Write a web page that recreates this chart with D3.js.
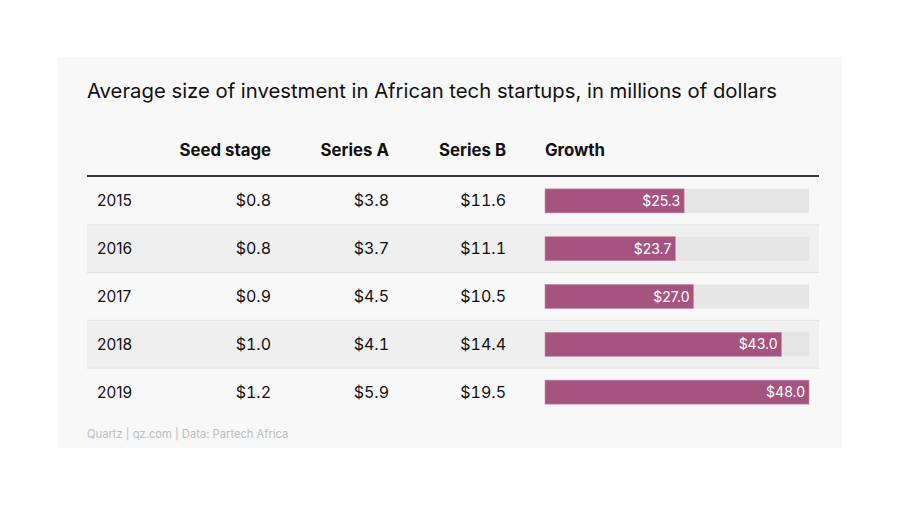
<!DOCTYPE html>
<html><head><meta charset="utf-8">
<script src="https://cdn.jsdelivr.net/npm/d3@7"></script>
<style>body{margin:0;background:#fff;font-family:Inter,"Noto Sans",sans-serif;}
.num{font-feature-settings:"tnum";font-variant-numeric:tabular-nums;}</style>
</head><body>
<svg id="c" width="900" height="506"></svg>
<script>
const years = ["2015","2016","2017","2018","2019"];
const seed = [0.8,0.8,0.9,1.0,1.2];
const seriesA = [3.8,3.7,4.5,4.1,5.9];
const seriesB = [11.6,11.1,10.5,14.4,19.5];
const growth = [25.3,23.7,27.0,43.0,48.0];
const headers = ["Seed stage","Series A","Series B","Growth"];

const svg = d3.select("#c");
svg.append("rect").attr("x",58).attr("y",57).attr("width",784).attr("height",391).attr("fill","#f8f8f8");
svg.append("text").attr("x",87).attr("y",98).attr("font-size",20.3).attr("fill","#111")
  .text("Average size of investment in African tech startups, in millions of dollars");

const y = d3.scaleBand().domain(years).range([177,416]).padding(0);
const x = d3.scaleLinear().domain([0,48]).range([545,809]);
const fmt = d3.format(".1f");

svg.selectAll(".row").data(years).join("rect")
  .attr("x",87).attr("width",732).attr("y",d=>y(d)).attr("height",y.bandwidth())
  .attr("fill",(d,i)=>i%2? "#efefef":"#f8f8f8");
svg.selectAll(".sep").data(years.slice(0,4)).join("line")
  .attr("x1",87).attr("x2",819).attr("y1",d=>y(d)+y.bandwidth()).attr("y2",d=>y(d)+y.bandwidth())
  .attr("stroke","#e2e2e2").attr("stroke-width",1);

const colX = [271,389,506,545];
headers.forEach((h,i)=>{
  svg.append("text").attr("x",colX[i]).attr("y",156).attr("font-size",16.8).attr("font-weight",700)
    .attr("fill","#111").attr("text-anchor",i<3?"end":"start").text(h);
});
svg.append("line").attr("x1",87).attr("x2",819).attr("y1",176).attr("y2",176).attr("stroke","#333").attr("stroke-width",2);

const cy = d=>y(d)+y.bandwidth()/2;
svg.selectAll(".yr").data(years).join("text").attr("x",97).attr("y",d=>cy(d)+5.5)
  .attr("font-size",15.5).attr("fill","#111").text(d=>d);
[seed,seriesA,seriesB].forEach((arr,j)=>{
  svg.selectAll(".c"+j).data(arr).join("text").attr("class","num").attr("x",colX[j]).attr("y",(d,i)=>cy(years[i])+5.5)
    .attr("font-size",16).attr("fill","#111").attr("text-anchor","end").text(d=>"$"+fmt(d));
});

svg.selectAll(".bg").data(years).join("rect").attr("x",x(0)).attr("width",x(48)-x(0))
  .attr("y",d=>cy(d)-12).attr("height",24).attr("fill","#e6e6e6");
svg.selectAll(".bar").data(growth).join("rect").attr("x",x(0)).attr("width",d=>x(d)-x(0))
  .attr("y",(d,i)=>cy(years[i])-12).attr("height",24).attr("fill","#a5547f")
  .attr("stroke","#c98aab").attr("stroke-width",0.6);
svg.selectAll(".bl").data(growth).join("text").attr("x",d=>x(d)-4).attr("y",(d,i)=>cy(years[i])+5)
  .attr("font-size",14).attr("fill","#fff").attr("text-anchor","end").text(d=>"$"+fmt(d));

svg.append("text").attr("x",87).attr("y",438).attr("font-size",11.2).attr("fill","#bdbdbd")
  .text("Quartz | qz.com | Data: Partech Africa");
</script>
</body></html>
